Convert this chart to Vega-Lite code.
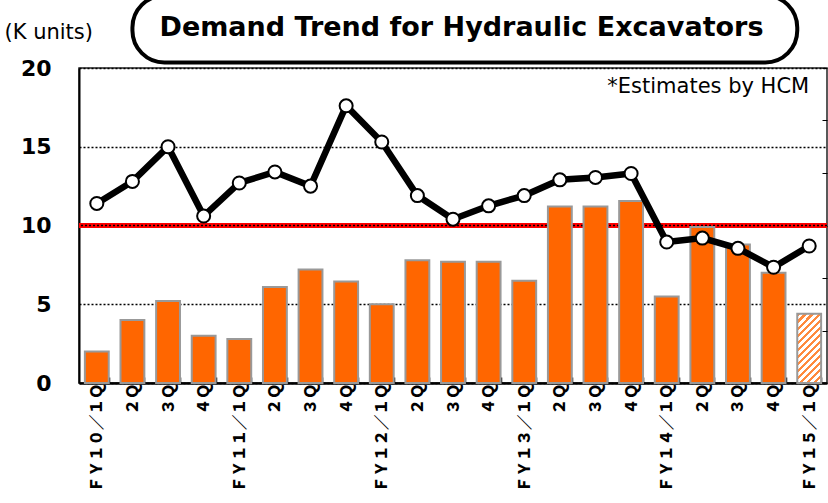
{
  "$schema": "https://vega.github.io/schema/vega-lite/v6.json",
  "width": 748,
  "height": 315,
  "autosize": {"type": "none"},
  "padding": {"left": 79, "top": 68, "right": 1, "bottom": 120},
  "background": "white",
  "data": {
    "values": [
      {"q": "FY10/1Q", "units": 2.0, "demand": 11.4, "status": "actual"},
      {"q": "FY10/2Q", "units": 4.0, "demand": 12.8, "status": "actual"},
      {"q": "FY10/3Q", "units": 5.2, "demand": 15.0, "status": "actual"},
      {"q": "FY10/4Q", "units": 3.0, "demand": 10.6, "status": "actual"},
      {"q": "FY11/1Q", "units": 2.8, "demand": 12.7, "status": "actual"},
      {"q": "FY11/2Q", "units": 6.1, "demand": 13.4, "status": "actual"},
      {"q": "FY11/3Q", "units": 7.2, "demand": 12.5, "status": "actual"},
      {"q": "FY11/4Q", "units": 6.45, "demand": 17.6, "status": "actual"},
      {"q": "FY12/1Q", "units": 5.0, "demand": 15.3, "status": "actual"},
      {"q": "FY12/2Q", "units": 7.8, "demand": 11.9, "status": "actual"},
      {"q": "FY12/3Q", "units": 7.7, "demand": 10.4, "status": "actual"},
      {"q": "FY12/4Q", "units": 7.7, "demand": 11.25, "status": "actual"},
      {"q": "FY13/1Q", "units": 6.5, "demand": 11.9, "status": "actual"},
      {"q": "FY13/2Q", "units": 11.2, "demand": 12.9, "status": "actual"},
      {"q": "FY13/3Q", "units": 11.2, "demand": 13.05, "status": "actual"},
      {"q": "FY13/4Q", "units": 11.55, "demand": 13.3, "status": "actual"},
      {"q": "FY14/1Q", "units": 5.5, "demand": 8.95, "status": "actual"},
      {"q": "FY14/2Q", "units": 9.9, "demand": 9.2, "status": "actual"},
      {"q": "FY14/3Q", "units": 8.8, "demand": 8.55, "status": "actual"},
      {"q": "FY14/4Q", "units": 7.0, "demand": 7.35, "status": "actual"},
      {"q": "FY15/1Q", "units": 4.4, "demand": 8.7, "status": "estimate"}
    ]
  },
  "layer": [
    {
      "layer": [
        {
          "data": {"values": [{}]},
          "mark": {"type": "rule", "color": "#FF0000", "strokeWidth": 5},
          "encoding": {
            "y": {"datum": 10, "type": "quantitative", "scale": {"domain": [0, 20]}, "title": "(K units)"}
          }
        },
        {
          "data": {"values": [{}]},
          "mark": {"type": "rule", "color": "black", "strokeWidth": 1.5, "strokeDash": [2, 2]},
          "encoding": {
            "y": {"datum": 10, "type": "quantitative", "scale": {"domain": [0, 20]}, "title": "(K units)"}
          }
        },
        {
          "transform": [{"filter": "datum.status == 'actual'"}],
          "mark": {"type": "bar", "color": "#FF6600", "stroke": "#999999", "strokeWidth": 2},
          "encoding": {
            "x": {
              "field": "q", "type": "nominal", "sort": null, "title": null,
              "scale": {"paddingInner": 0.33, "paddingOuter": 0.165},
              "axis": {"labelExpr": "replace(replace(replace(replace(replace(replace(replace(replace(replace(replace((indexof(datum.label, '/1Q') >= 0 ? datum.label : slice(datum.label, 5)), regexp('F', 'g'), 'Ｆ'), regexp('Y', 'g'), 'Ｙ'), regexp('Q', 'g'), 'Ｑ'), regexp('/', 'g'), '／'), regexp('0', 'g'), '０'), regexp('1', 'g'), '１'), regexp('2', 'g'), '２'), regexp('3', 'g'), '３'), regexp('4', 'g'), '４'), regexp('5', 'g'), '５')"}
            },
            "y": {"field": "units", "type": "quantitative", "scale": {"domain": [0, 20]}, "title": "(K units)"}
          }
        },
        {
          "transform": [{"filter": "datum.status == 'estimate'"}],
          "mark": {
            "type": "bar", "stroke": "#999999", "strokeWidth": 2,
            "fill": {
              "gradient": "linear", "x1": 0, "y1": 0, "x2": 1, "y2": 2.9,
              "stops": [
                {"offset": 0, "color": "#FF8A3D"}, {"offset": 0.015625, "color": "#FF8A3D"}, {"offset": 0.015625, "color": "#FFFFFF"}, {"offset": 0.03125, "color": "#FFFFFF"},
                {"offset": 0.03125, "color": "#FF8A3D"}, {"offset": 0.046875, "color": "#FF8A3D"}, {"offset": 0.046875, "color": "#FFFFFF"}, {"offset": 0.0625, "color": "#FFFFFF"},
                {"offset": 0.0625, "color": "#FF8A3D"}, {"offset": 0.078125, "color": "#FF8A3D"}, {"offset": 0.078125, "color": "#FFFFFF"}, {"offset": 0.09375, "color": "#FFFFFF"},
                {"offset": 0.09375, "color": "#FF8A3D"}, {"offset": 0.109375, "color": "#FF8A3D"}, {"offset": 0.109375, "color": "#FFFFFF"}, {"offset": 0.125, "color": "#FFFFFF"},
                {"offset": 0.125, "color": "#FF8A3D"}, {"offset": 0.140625, "color": "#FF8A3D"}, {"offset": 0.140625, "color": "#FFFFFF"}, {"offset": 0.15625, "color": "#FFFFFF"},
                {"offset": 0.15625, "color": "#FF8A3D"}, {"offset": 0.171875, "color": "#FF8A3D"}, {"offset": 0.171875, "color": "#FFFFFF"}, {"offset": 0.1875, "color": "#FFFFFF"},
                {"offset": 0.1875, "color": "#FF8A3D"}, {"offset": 0.203125, "color": "#FF8A3D"}, {"offset": 0.203125, "color": "#FFFFFF"}, {"offset": 0.21875, "color": "#FFFFFF"},
                {"offset": 0.21875, "color": "#FF8A3D"}, {"offset": 0.234375, "color": "#FF8A3D"}, {"offset": 0.234375, "color": "#FFFFFF"}, {"offset": 0.25, "color": "#FFFFFF"},
                {"offset": 0.25, "color": "#FF8A3D"}, {"offset": 0.265625, "color": "#FF8A3D"}, {"offset": 0.265625, "color": "#FFFFFF"}, {"offset": 0.28125, "color": "#FFFFFF"},
                {"offset": 0.28125, "color": "#FF8A3D"}, {"offset": 0.296875, "color": "#FF8A3D"}, {"offset": 0.296875, "color": "#FFFFFF"}, {"offset": 0.3125, "color": "#FFFFFF"},
                {"offset": 0.3125, "color": "#FF8A3D"}, {"offset": 0.328125, "color": "#FF8A3D"}, {"offset": 0.328125, "color": "#FFFFFF"}, {"offset": 0.34375, "color": "#FFFFFF"},
                {"offset": 0.34375, "color": "#FF8A3D"}, {"offset": 0.359375, "color": "#FF8A3D"}, {"offset": 0.359375, "color": "#FFFFFF"}, {"offset": 0.375, "color": "#FFFFFF"},
                {"offset": 0.375, "color": "#FF8A3D"}, {"offset": 0.390625, "color": "#FF8A3D"}, {"offset": 0.390625, "color": "#FFFFFF"}, {"offset": 0.40625, "color": "#FFFFFF"},
                {"offset": 0.40625, "color": "#FF8A3D"}, {"offset": 0.421875, "color": "#FF8A3D"}, {"offset": 0.421875, "color": "#FFFFFF"}, {"offset": 0.4375, "color": "#FFFFFF"},
                {"offset": 0.4375, "color": "#FF8A3D"}, {"offset": 0.453125, "color": "#FF8A3D"}, {"offset": 0.453125, "color": "#FFFFFF"}, {"offset": 0.46875, "color": "#FFFFFF"},
                {"offset": 0.46875, "color": "#FF8A3D"}, {"offset": 0.484375, "color": "#FF8A3D"}, {"offset": 0.484375, "color": "#FFFFFF"}, {"offset": 0.5, "color": "#FFFFFF"}
              ]
            }
          },
          "encoding": {
            "x": {
              "field": "q", "type": "nominal", "sort": null, "title": null,
              "scale": {"paddingInner": 0.33, "paddingOuter": 0.165}
            },
            "y": {"field": "units", "type": "quantitative", "scale": {"domain": [0, 20]}, "title": "(K units)"}
          }
        },
        {
          "mark": {"type": "line", "color": "black", "strokeWidth": 6.5},
          "encoding": {
            "x": {"field": "q", "type": "nominal", "sort": null, "title": null},
            "y": {"field": "demand", "type": "quantitative", "scale": {"domain": [0, 20]}, "title": "(K units)"}
          }
        },
        {
          "mark": {"type": "point", "shape": "circle", "filled": true, "fill": "white", "stroke": "black", "strokeWidth": 2, "size": 170, "opacity": 1},
          "encoding": {
            "x": {"field": "q", "type": "nominal", "sort": null, "title": null},
            "y": {"field": "demand", "type": "quantitative", "scale": {"domain": [0, 20]}, "title": "(K units)"}
          }
        },
        {
          "data": {"values": [{"note": "*Estimates by HCM"}]},
          "mark": {"type": "text", "font": "DejaVu Sans", "fontSize": 21, "color": "black", "align": "right", "baseline": "middle"},
          "encoding": {
            "x": {"datum": "FY15/1Q", "type": "nominal", "bandPosition": 0.5, "title": null},
            "y": {"datum": 18.8, "type": "quantitative", "scale": {"domain": [0, 20]}, "title": "(K units)"},
            "text": {"field": "note"}
          }
        },
        {
          "data": {"values": [{}]},
          "mark": {"type": "rect", "filled": false, "stroke": "black", "strokeWidth": 4, "cornerRadius": 32},
          "encoding": {
            "x": {"datum": "FY15/1Q", "type": "nominal", "bandPosition": 0, "title": null},
            "x2": {"datum": "FY10/2Q"},
            "y": {"datum": 20.35, "type": "quantitative", "scale": {"domain": [0, 20]}, "title": "(K units)"},
            "y2": {"datum": 24.6}
          }
        },
        {
          "data": {"values": [{"title": "Demand Trend for Hydraulic Excavators"}]},
          "mark": {"type": "text", "font": "DejaVu Sans", "fontWeight": "bold", "fontSize": 27, "color": "black", "align": "center", "baseline": "alphabetic"},
          "encoding": {
            "x": {"datum": "FY12/3Q", "type": "nominal", "bandPosition": 0.855, "title": null},
            "y": {"datum": 22.05, "type": "quantitative", "scale": {"domain": [0, 20]}, "title": "(K units)"},
            "text": {"field": "title"}
          }
        }
      ]
    },
    {
      "data": {"values": [{}]},
      "mark": {"type": "rule", "opacity": 0},
      "encoding": {
        "y": {
          "datum": 0, "type": "quantitative", "scale": {"domain": [0, 6]},
          "axis": {"orient": "right", "tickCount": 6, "labels": false, "domain": false, "grid": false, "ticks": true, "tickSize": -5, "tickColor": "black", "tickWidth": 1, "title": null}
        }
      }
    }
  ],
  "resolve": {"scale": {"y": "independent"}},
  "config": {
    "view": {"stroke": "#222222", "strokeWidth": 1.5},
    "axisLeft": {
      "domainColor": "black", "domainWidth": 2, "ticks": false,
      "labelFont": "DejaVu Sans", "labelFontWeight": "bold", "labelFontSize": 22, "labelColor": "black", "labelPadding": 28,
      "grid": true, "gridColor": "black", "gridDash": [2, 2], "gridWidth": 1.5, "tickCount": 4,
      "titleAngle": 0, "titleX": -75, "titleY": -30, "titleAlign": "left", "titleBaseline": "alphabetic",
      "titleFont": "DejaVu Sans", "titleFontSize": 21, "titleFontWeight": "normal", "titleColor": "black"
    },
    "axisBottom": {
      "domainColor": "black", "domainWidth": 2.5, "tickColor": "black", "tickWidth": 1.5, "tickSize": -6, "tickBand": "extent",
      "labelFont": "Noto Sans CJK JP", "labelFontWeight": 900, "labelFontSize": 15.5, "labelColor": "black", "labelAngle": 270, "labelPadding": 6,
      "grid": false
    }
  }
}
